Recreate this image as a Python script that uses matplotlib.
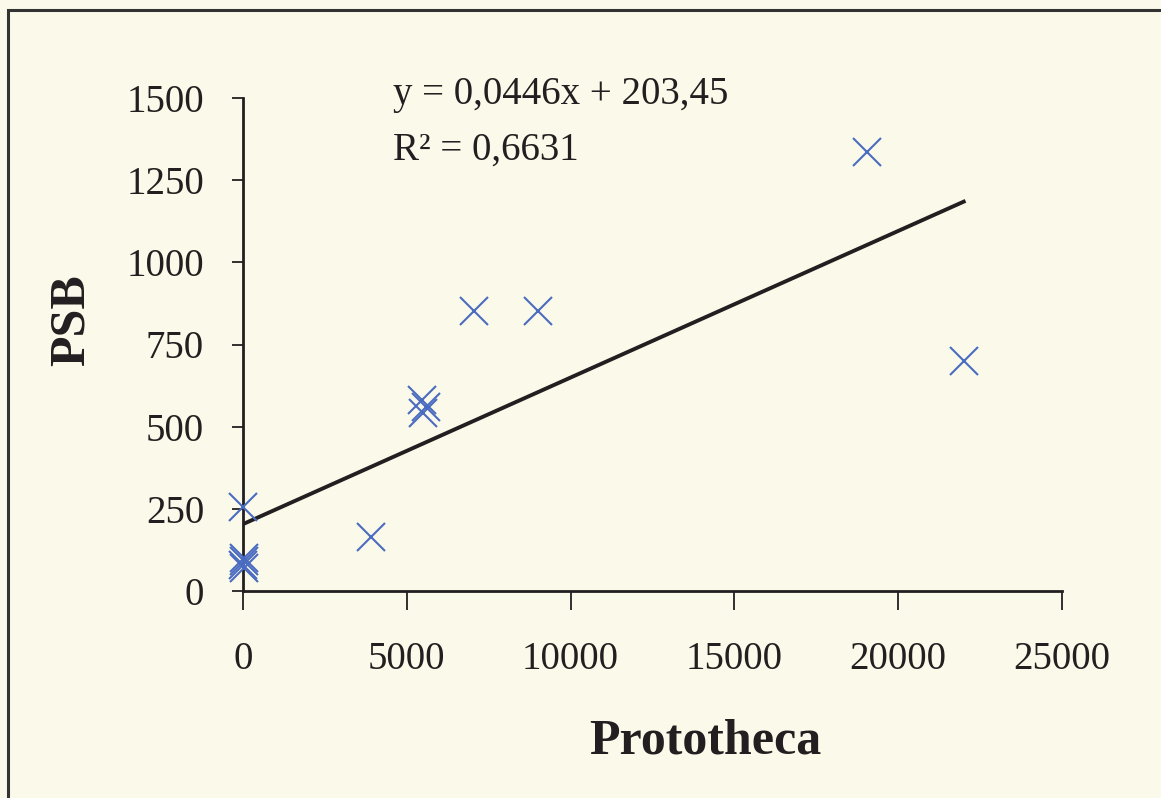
import matplotlib
matplotlib.use("Agg")
import matplotlib.pyplot as plt
from matplotlib.patches import Rectangle
import numpy as np

# Data
prototheca = [0, 20, 40, 10, 30, 3900, 5450, 5600, 5500, 7050, 9000, 19050, 22000]
psb = [255, 100, 90, 80, 70, 163, 580, 560, 542, 852, 852, 1337, 700]

slope = 0.0446
intercept = 203.45
eq_text = "y = 0,0446x + 203,45"
r2_text = "R² = 0,6631"

x_ticks = [0, 5000, 10000, 15000, 20000, 25000]
y_ticks = [0, 250, 500, 750, 1000, 1250, 1500]

plt.rcParams['font.family'] = ['Liberation Serif', 'DejaVu Serif']

W, H = 1161, 798
bg = '#fbf9e9'
fig = plt.figure(figsize=(W / 100, H / 100), dpi=100, facecolor=bg)
ax = fig.add_axes([243 / W, 1 - 591 / H, (1062 - 243) / W, (591 - 98) / H])
ax.set_facecolor('none')

# Scatter points as blue crosses
ax.plot(prototheca, psb, linestyle='none', marker='x', markersize=20,
        markeredgewidth=1.5, color='#4a6cc0', clip_on=False, zorder=3)

# Trend line from 0 to max x
xl = np.array([0, max(prototheca)])
ax.plot(xl, slope * xl + intercept, color='#231f20', lw=2.8, zorder=2)

ax.set_xlim(0, 25000)
ax.set_ylim(0, 1500)
ax.set_xticks(x_ticks)
ax.set_yticks(y_ticks)
ax.tick_params(axis='x', direction='out', length=14, width=1.3, pad=22,
               labelsize=28, colors='#231f20')
ax.tick_params(axis='y', direction='out', length=8, width=1.3, pad=20,
               labelsize=28, colors='#231f20')

for s in ['top', 'right']:
    ax.spines[s].set_visible(False)
for s in ['left', 'bottom']:
    ax.spines[s].set_linewidth(2.0)
    ax.spines[s].set_color('#231f20')

# Axis titles, placed where they sit in the picture
ax.set_xlabel("Prototheca", fontsize=36, fontweight='bold', color='#231f20')
ax.set_ylabel("PSB", fontsize=36, fontweight='bold', color='#231f20')
ax.xaxis.set_label_coords((705 - 243) / 819, (591 - 742) / 493)
ax.xaxis.label.set_va('center')
ax.yaxis.set_label_coords((72 - 243) / 819, (591 - 320) / 493)
ax.yaxis.label.set_va('center')
ax.yaxis.label.set_ha('center')

# Equation and R squared
ax.text(393 / W, 1 - 104 / H, eq_text, transform=fig.transFigure,
        fontsize=28, color='#231f20', va='baseline')
ax.text(393 / W, 1 - 160 / H, r2_text, transform=fig.transFigure,
        fontsize=28, color='#231f20', va='baseline')

# Outer frame (only left and top edges are in view)
fig.add_artist(Rectangle((8 / W, -0.1), 1.2, (1 - 10 / H) + 0.1,
                         fill=False, lw=2.2, edgecolor='#333333',
                         transform=fig.transFigure, clip_on=False))

fig.savefig("out.png", dpi=100, facecolor=bg)
